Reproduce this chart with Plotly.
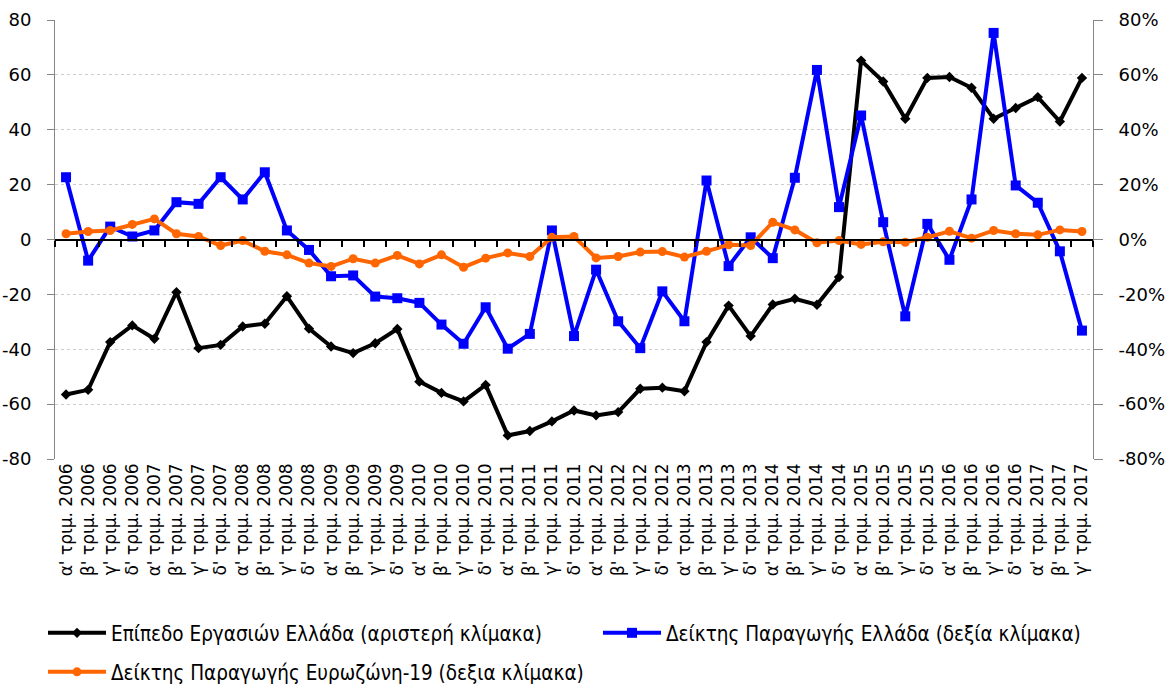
import plotly.graph_objects as go

quarters = ["α'", "β'", "γ'", "δ'"]
years = list(range(2006, 2018))
categories = [f"{q} τριμ. {y}" for y in years for q in quarters][:47]

# Επίπεδο Εργασιών Ελλάδα (left scale)
business_level = [-56.5, -54.8, -37.4, -31.3, -36.2, -19.2, -39.6, -38.4, -31.7, -30.7,
                  -20.7, -32.5, -39.0, -41.4, -37.8, -32.6, -51.8, -55.9, -59.0, -53.0,
                  -71.4, -69.8, -66.3, -62.3, -64.1, -62.9, -54.4, -54.0, -55.3, -37.4,
                  -24.1, -35.2, -23.7, -21.6, -23.8, -13.7, 65.2, 57.6, 44.0, 58.9,
                  59.2, 55.3, 44.0, 47.9, 51.9, 43.0, 58.9]

# Δείκτης Παραγωγής Ελλάδα (right scale, %)
greece_prod = [22.7, -7.7, 4.7, 1.1, 3.3, 13.6, 13.0, 22.7, 14.6, 24.5,
               3.3, -3.8, -13.4, -13.1, -20.8, -21.4, -23.1, -31.0, -38.0, -24.7,
               -39.8, -34.4, 3.3, -35.2, -11.0, -29.8, -39.6, -18.9, -29.8, 21.5,
               -9.7, 0.8, -6.8, 22.5, 61.8, 11.8, 45.2, 6.3, -28.0, 5.7,
               -7.4, 14.6, 75.3, 19.7, 13.4, -4.3, -33.2]

# Δείκτης Παραγωγής Ευρωζώνη-19 (right scale, %)
ez_prod = [2.1, 2.9, 3.3, 5.5, 7.5, 2.1, 1.1, -2.2, -0.4, -4.3,
           -5.6, -8.6, -9.8, -7.0, -8.6, -5.8, -8.9, -5.6, -10.1, -6.8,
           -4.9, -6.2, 0.8, 1.1, -6.7, -6.2, -4.6, -4.4, -6.4, -4.3,
           -1.9, -2.2, 6.3, 3.5, -1.2, -0.4, -1.8, -0.8, -1.0, 0.8,
           3.0, 0.5, 3.3, 2.1, 1.7, 3.5, 2.9]

y_ticks = [-80, -60, -40, -20, 0, 20, 40, 60, 80]
y_left_labels = [str(v) for v in y_ticks]
y_right_labels = [f"{v}%" for v in y_ticks]

idx = list(range(len(categories)))
FONT = "DejaVu Sans"
LEGEND_FONT = "DejaVu Sans Condensed, Liberation Sans Narrow, DejaVu Sans"

fig = go.Figure()
fig.add_trace(go.Scatter(
    x=idx, y=business_level, name="Επίπεδο Εργασιών Ελλάδα (αριστερή κλίμακα)",
    mode="lines+markers", line=dict(color="#000000", width=4),
    marker=dict(symbol="diamond", size=8, color="#000000"),
    xaxis="x", yaxis="y", legend="legend"))
fig.add_trace(go.Scatter(
    x=idx, y=greece_prod, name="Δείκτης Παραγωγής Ελλάδα (δεξία κλίμακα)",
    mode="lines+markers", line=dict(color="#0000FF", width=4),
    marker=dict(symbol="square", size=10, color="#0000FF"),
    xaxis="x2", yaxis="y2", legend="legend2"))
fig.add_trace(go.Scatter(
    x=idx, y=ez_prod, name="Δείκτης Παραγωγής Ευρωζώνη-19 (δεξια κλίμακα)",
    mode="lines+markers", line=dict(color="#FF6600", width=4),
    marker=dict(symbol="circle", size=9, color="#FF6600"),
    xaxis="x2", yaxis="y2", legend="legend3"))

boundaries = [i - 0.5 for i in range(len(categories) + 1)]

legend_common = dict(orientation="h", xref="container", yref="container",
                     xanchor="left", yanchor="middle",
                     font=dict(family=LEGEND_FONT, size=20.5),
                     itemwidth=58, bgcolor="rgba(0,0,0,0)")

row1 = 1 - 633 / 686
row2 = 1 - 672 / 686

fig.update_layout(
    width=1175, height=686,
    margin=dict(l=55, r=82, t=20, b=227, autoexpand=False),
    plot_bgcolor="white", paper_bgcolor="white",
    font=dict(family=FONT, color="#000000"),
    showlegend=True,
    legend=dict(x=43 / 1175, y=row1, **legend_common),
    legend2=dict(x=598 / 1175, y=row1, **legend_common),
    legend3=dict(x=43 / 1175, y=row2, **legend_common),
    xaxis=dict(range=[-0.5, len(categories) - 0.5], tickmode="array",
               tickvals=idx, ticktext=categories, tickangle=-90,
               tickfont=dict(size=17, family=FONT), showgrid=False, zeroline=False,
               showline=False, ticks="", automargin=False),
    xaxis2=dict(range=[-0.5, len(categories) - 0.5], overlaying="x", anchor="free",
                position=0.5, side="bottom", tickmode="array", tickvals=boundaries,
                showticklabels=False, ticks="outside", ticklen=6, tickwidth=2,
                tickcolor="#000000", showline=True, linecolor="#000000", linewidth=2,
                showgrid=False, zeroline=False, automargin=False),
    yaxis=dict(range=[-80, 80], tickmode="array", tickvals=y_ticks,
               ticktext=y_left_labels, ticklabelstandoff=12,
               tickfont=dict(size=18), showgrid=True, gridcolor="#cccccc",
               griddash="dot", gridwidth=1, zeroline=False, showline=True,
               linecolor="#868686", linewidth=1, ticks="outside", ticklen=7,
               tickcolor="#868686", automargin=False),
    yaxis2=dict(range=[-80, 80], tickmode="array", tickvals=y_ticks,
                ticktext=y_right_labels, ticklabelstandoff=12,
                overlaying="y", side="right", anchor="x",
                tickfont=dict(size=18), showgrid=False, zeroline=False,
                showline=True, linecolor="#868686", linewidth=1, ticks="outside",
                ticklen=9, tickcolor="#868686", automargin=False),
)

fig.write_html(
    "out.html",
    config={"displayModeBar": False},
    post_script="document.body.style.margin='0';document.body.style.overflow='hidden';",
)
